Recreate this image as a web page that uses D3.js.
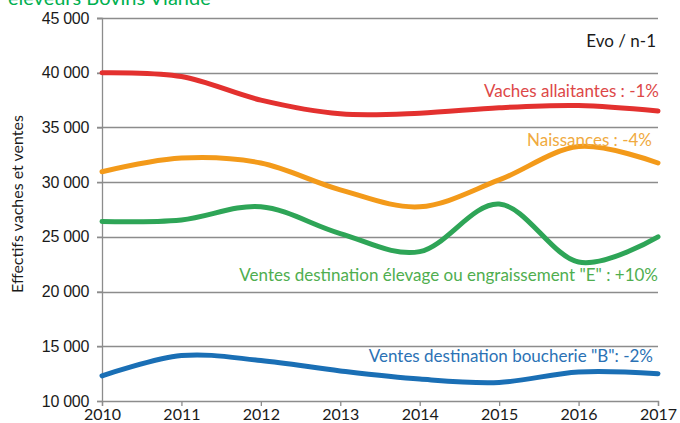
<!DOCTYPE html>
<html lang="fr">
<head>
<meta charset="utf-8">
<title>Effectifs vaches et ventes</title>
<script src="https://cdn.jsdelivr.net/npm/d3@7"></script>
<style>
  body { margin: 0; background: #fff; }
  svg { display: block; }
</style>
</head>
<body>
<script>
  var years = [2010, 2011, 2012, 2013, 2014, 2015, 2016, 2017];
  var vaches = [40000, 39650, 37500, 36250, 36300, 36800, 37000, 36500];
  var naissances = [30950, 32200, 31750, 29300, 27750, 30200, 33250, 31750];
  var ventesE = [26400, 26550, 27750, 25300, 23650, 28000, 22700, 25000];
  var ventesB = [12300, 14150, 13700, 12750, 12000, 11700, 12650, 12500];
  var yTicks = [10000, 15000, 20000, 25000, 30000, 35000, 40000, 45000];

  var w = 680, h = 423;
  var x0 = 102, x1 = 658, yTop = 18, yBot = 401;

  var svg = d3.select("body").append("svg")
    .attr("width", w)
    .attr("height", h);

  var x = d3.scaleLinear().domain([2010, 2017]).range([x0, x1]);
  var y = d3.scaleLinear().domain([10000, 45000]).range([yBot, yTop]);

  // title, cut off at the top like in the source image
  svg.append("text")
    .attr("x", 8).attr("y", 5)
    .attr("font-family", "Lato, 'Open Sans', sans-serif")
    .attr("font-size", "20px")
    .attr("fill", "#00b050")
    .text("éleveurs Bovins Viande");

  // gridlines
  svg.append("g")
    .selectAll("line")
    .data(yTicks.slice(1))
    .enter().append("line")
    .attr("x1", x0 - 5).attr("x2", x1)
    .attr("y1", function(d) { return Math.round(y(d)) + 0.5; })
    .attr("y2", function(d) { return Math.round(y(d)) + 0.5; })
    .attr("stroke", "#8c8c8c")
    .attr("stroke-width", 1.3);

  // y axis
  var yAxis = d3.axisLeft(y)
    .tickValues(yTicks)
    .tickSize(5)
    .tickPadding(8)
    .tickFormat(function(d) { return d3.format(",")(d).replace(",", " "); });
  var gy = svg.append("g").attr("transform", "translate(" + x0 + ",0)").call(yAxis);
  gy.select(".domain").attr("stroke", "#8c8c8c").attr("stroke-width", 1.3);
  gy.selectAll(".tick line").attr("stroke", "#8c8c8c").attr("stroke-width", 1.3);
  gy.selectAll("text")
    .attr("font-family", "'Liberation Sans', Arial, sans-serif")
    .attr("font-size", "16px")
    .attr("letter-spacing", "-0.3px")
    .attr("fill", "#1a1a1a");

  // x axis
  var xAxis = d3.axisBottom(x)
    .tickValues(years)
    .tickSize(5)
    .tickPadding(3)
    .tickFormat(d3.format("d"));
  var gx = svg.append("g").attr("transform", "translate(0," + yBot + ")").call(xAxis);
  gx.select(".domain").attr("stroke", "#8c8c8c").attr("stroke-width", 1.3);
  gx.selectAll(".tick line").attr("stroke", "#8c8c8c").attr("stroke-width", 1.3);
  gx.selectAll("text")
    .attr("font-family", "Lato, 'Open Sans', sans-serif")
    .attr("font-size", "16px")
    .attr("fill", "#1a1a1a");

  // axis title
  svg.append("text")
    .attr("transform", "translate(23,204) rotate(-90)")
    .attr("text-anchor", "middle")
    .attr("font-family", "Lato, 'Open Sans', sans-serif")
    .attr("font-size", "16px")
    .attr("fill", "#1a1a1a")
    .text("Effectifs vaches et ventes");

  var series = [
    { name: "Vaches allaitantes : -1%", values: vaches, color: "#e3312f", label: "#dd4848", lx: 659, ly: 97 },
    { name: "Naissances : -4%", values: naissances, color: "#f39a1a", label: "#f0aa40", lx: 652, ly: 146 },
    { name: "Ventes destination élevage ou engraissement \"E\" : +10%", values: ventesE, color: "#2ea557", label: "#4fae4f", lx: 658, ly: 281 },
    { name: "Ventes destination boucherie \"B\": -2%", values: ventesB, color: "#1a6fb5", label: "#2b72b5", lx: 653, ly: 362 }
  ];

  var line = d3.line()
    .x(function(d, i) { return x(years[i]); })
    .y(function(d) { return y(d); })
    .curve(d3.curveCardinal.tension(0));

  series.forEach(function(s) {
    svg.append("path")
      .datum(s.values)
      .attr("d", line)
      .attr("fill", "none")
      .attr("stroke", s.color)
      .attr("stroke-width", 5)
      .attr("stroke-linecap", "round")
      .attr("stroke-linejoin", "round");

    svg.append("text")
      .attr("x", s.lx).attr("y", s.ly)
      .attr("text-anchor", "end")
      .attr("font-family", "Lato, 'Open Sans', sans-serif")
      .attr("font-size", "17px")
      .attr("fill", s.label)
      .text(s.name);
  });

  svg.append("text")
    .attr("x", 656).attr("y", 47)
    .attr("text-anchor", "end")
    .attr("font-family", "Lato, 'Open Sans', sans-serif")
    .attr("font-size", "17px")
    .attr("fill", "#1a1a1a")
    .text("Evo / n-1");
</script>
</body>
</html>
